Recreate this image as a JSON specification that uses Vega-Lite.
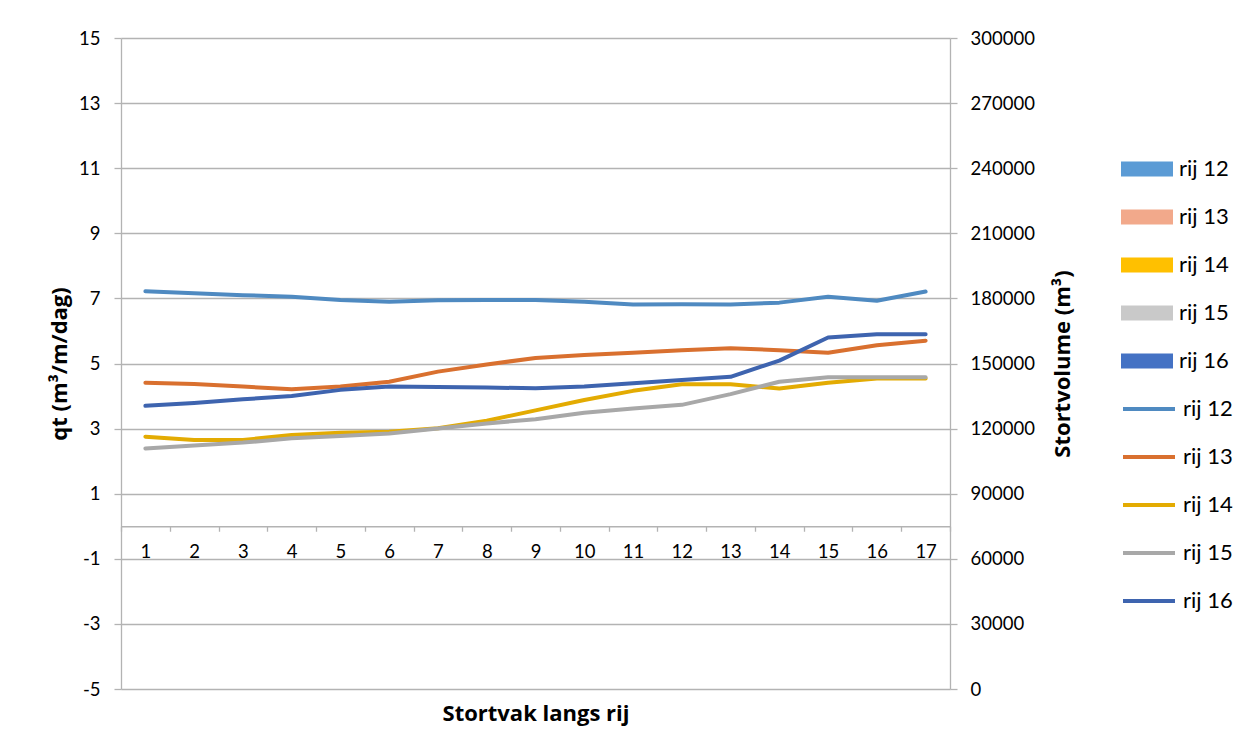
{
  "$schema": "https://vega.github.io/schema/vega-lite/v6.json",
  "width": 829,
  "height": 651,
  "autosize": "none",
  "padding": {"left": 121, "top": 38, "right": 308, "bottom": 64},
  "background": "white",
  "config": {
    "font": "Lato",
    "view": {"stroke": null},
    "axis": {
      "labelFont": "Lato",
      "labelFontSize": 18.5,
      "labelColor": "#000000",
      "titleFont": "Open Sans",
      "titleFontSize": 22,
      "titleFontWeight": "bold",
      "titleColor": "#000000",
      "domainColor": "#B3B3B3",
      "domainWidth": 1.3,
      "tickColor": "#B3B3B3",
      "tickWidth": 1.3,
      "gridColor": "#B3B3B3",
      "gridWidth": 1.3
    },
    "legend": {
      "orient": "none",
      "title": null,
      "padding": 0,
      "labelFont": "Lato",
      "labelFontSize": 22,
      "labelColor": "#000000",
      "labelOffset": 6,
      "symbolSize": 2704
    }
  },
  "datasets": {
    "stort": [
      {"rij": "rij 12", "vak": 1, "Stortvolume": 0},
      {"rij": "rij 13", "vak": 1, "Stortvolume": 0},
      {"rij": "rij 14", "vak": 1, "Stortvolume": 0},
      {"rij": "rij 15", "vak": 1, "Stortvolume": 0},
      {"rij": "rij 16", "vak": 1, "Stortvolume": 0}
    ],
    "qt": [
      {"rij": "rij 12", "vak": 1, "qt": 7.22},
      {"rij": "rij 12", "vak": 2, "qt": 7.16},
      {"rij": "rij 12", "vak": 3, "qt": 7.10},
      {"rij": "rij 12", "vak": 4, "qt": 7.05},
      {"rij": "rij 12", "vak": 5, "qt": 6.95},
      {"rij": "rij 12", "vak": 6, "qt": 6.90},
      {"rij": "rij 12", "vak": 7, "qt": 6.94},
      {"rij": "rij 12", "vak": 8, "qt": 6.95},
      {"rij": "rij 12", "vak": 9, "qt": 6.95},
      {"rij": "rij 12", "vak": 10, "qt": 6.90},
      {"rij": "rij 12", "vak": 11, "qt": 6.81},
      {"rij": "rij 12", "vak": 12, "qt": 6.82},
      {"rij": "rij 12", "vak": 13, "qt": 6.81},
      {"rij": "rij 12", "vak": 14, "qt": 6.87},
      {"rij": "rij 12", "vak": 15, "qt": 7.05},
      {"rij": "rij 12", "vak": 16, "qt": 6.93},
      {"rij": "rij 12", "vak": 17, "qt": 7.21},
      {"rij": "rij 13", "vak": 1, "qt": 4.41},
      {"rij": "rij 13", "vak": 2, "qt": 4.37},
      {"rij": "rij 13", "vak": 3, "qt": 4.29},
      {"rij": "rij 13", "vak": 4, "qt": 4.21},
      {"rij": "rij 13", "vak": 5, "qt": 4.29},
      {"rij": "rij 13", "vak": 6, "qt": 4.44},
      {"rij": "rij 13", "vak": 7, "qt": 4.75},
      {"rij": "rij 13", "vak": 8, "qt": 4.97},
      {"rij": "rij 13", "vak": 9, "qt": 5.17},
      {"rij": "rij 13", "vak": 10, "qt": 5.26},
      {"rij": "rij 13", "vak": 11, "qt": 5.33},
      {"rij": "rij 13", "vak": 12, "qt": 5.41},
      {"rij": "rij 13", "vak": 13, "qt": 5.47},
      {"rij": "rij 13", "vak": 14, "qt": 5.41},
      {"rij": "rij 13", "vak": 15, "qt": 5.33},
      {"rij": "rij 13", "vak": 16, "qt": 5.56},
      {"rij": "rij 13", "vak": 17, "qt": 5.70},
      {"rij": "rij 14", "vak": 1, "qt": 2.75},
      {"rij": "rij 14", "vak": 2, "qt": 2.65},
      {"rij": "rij 14", "vak": 3, "qt": 2.65},
      {"rij": "rij 14", "vak": 4, "qt": 2.80},
      {"rij": "rij 14", "vak": 5, "qt": 2.87},
      {"rij": "rij 14", "vak": 6, "qt": 2.90},
      {"rij": "rij 14", "vak": 7, "qt": 3.01},
      {"rij": "rij 14", "vak": 8, "qt": 3.24},
      {"rij": "rij 14", "vak": 9, "qt": 3.56},
      {"rij": "rij 14", "vak": 10, "qt": 3.88},
      {"rij": "rij 14", "vak": 11, "qt": 4.16},
      {"rij": "rij 14", "vak": 12, "qt": 4.36},
      {"rij": "rij 14", "vak": 13, "qt": 4.36},
      {"rij": "rij 14", "vak": 14, "qt": 4.23},
      {"rij": "rij 14", "vak": 15, "qt": 4.41},
      {"rij": "rij 14", "vak": 16, "qt": 4.54},
      {"rij": "rij 14", "vak": 17, "qt": 4.54},
      {"rij": "rij 15", "vak": 1, "qt": 2.39},
      {"rij": "rij 15", "vak": 2, "qt": 2.48},
      {"rij": "rij 15", "vak": 3, "qt": 2.57},
      {"rij": "rij 15", "vak": 4, "qt": 2.70},
      {"rij": "rij 15", "vak": 5, "qt": 2.77},
      {"rij": "rij 15", "vak": 6, "qt": 2.85},
      {"rij": "rij 15", "vak": 7, "qt": 3.00},
      {"rij": "rij 15", "vak": 8, "qt": 3.16},
      {"rij": "rij 15", "vak": 9, "qt": 3.29},
      {"rij": "rij 15", "vak": 10, "qt": 3.49},
      {"rij": "rij 15", "vak": 11, "qt": 3.62},
      {"rij": "rij 15", "vak": 12, "qt": 3.73},
      {"rij": "rij 15", "vak": 13, "qt": 4.06},
      {"rij": "rij 15", "vak": 14, "qt": 4.44},
      {"rij": "rij 15", "vak": 15, "qt": 4.58},
      {"rij": "rij 15", "vak": 16, "qt": 4.58},
      {"rij": "rij 15", "vak": 17, "qt": 4.58},
      {"rij": "rij 16", "vak": 1, "qt": 3.70},
      {"rij": "rij 16", "vak": 2, "qt": 3.79},
      {"rij": "rij 16", "vak": 3, "qt": 3.90},
      {"rij": "rij 16", "vak": 4, "qt": 4.00},
      {"rij": "rij 16", "vak": 5, "qt": 4.19},
      {"rij": "rij 16", "vak": 6, "qt": 4.29},
      {"rij": "rij 16", "vak": 7, "qt": 4.28},
      {"rij": "rij 16", "vak": 8, "qt": 4.26},
      {"rij": "rij 16", "vak": 9, "qt": 4.24},
      {"rij": "rij 16", "vak": 10, "qt": 4.29},
      {"rij": "rij 16", "vak": 11, "qt": 4.39},
      {"rij": "rij 16", "vak": 12, "qt": 4.49},
      {"rij": "rij 16", "vak": 13, "qt": 4.59},
      {"rij": "rij 16", "vak": 14, "qt": 5.09},
      {"rij": "rij 16", "vak": 15, "qt": 5.80},
      {"rij": "rij 16", "vak": 16, "qt": 5.90},
      {"rij": "rij 16", "vak": 17, "qt": 5.90}
    ]
  },
  "layer": [
    {
      "data": {"name": "stort"},
      "mark": {"type": "bar"},
      "encoding": {
        "x": {
          "field": "vak",
          "type": "ordinal",
          "sort": "ascending",
          "scale": {"type": "band", "paddingInner": 0, "paddingOuter": 0, "domain": [1,2,3,4,5,6,7,8,9,10,11,12,13,14,15,16,17]},
          "axis": {
            "orient": "bottom",
            "offset": -162.75,
            "labelAngle": 0,
            "tickBand": "extent",
            "tickSize": 5,
            "labelPadding": 11,
            "title": "Stortvak langs rij",
            "titleY": 187,
            "titleBaseline": "middle"
          }
        },
        "y": {
          "field": "Stortvolume",
          "type": "quantitative",
          "scale": {"domain": [0, 300000], "nice": false},
          "axis": {
            "orient": "right",
            "values": [0, 30000, 60000, 90000, 120000, 150000, 180000, 210000, 240000, 270000, 300000],
            "format": "d",
            "grid": false,
            "tickSize": 7,
            "labelPadding": 13,
            "title": "Stortvolume (m³)",
            "titleAngle": 270,
            "titleAlign": "center",
            "titleBaseline": "middle",
            "titleX": 112,
            "titleY": 325.5
          }
        },
        "fill": {
          "field": "rij",
          "type": "nominal",
          "scale": {
            "domain": ["rij 12", "rij 13", "rij 14", "rij 15", "rij 16"],
            "range": ["#5B9BD5", "#F2A98B", "#FFC000", "#C9C9C9", "#4472C4"]
          },
          "legend": {
            "symbolType": "M-1,-0.29H1V0.29H-1Z",
            "symbolStrokeWidth": 0,
            "rowPadding": 11,
            "legendX": 1000,
            "legendY": 105
          }
        }
      }
    },
    {
      "data": {"name": "qt"},
      "mark": {"type": "line", "strokeWidth": 4, "strokeCap": "round", "strokeJoin": "round"},
      "encoding": {
        "x": {"field": "vak", "type": "ordinal", "sort": "ascending"},
        "y": {
          "field": "qt",
          "type": "quantitative",
          "scale": {"domain": [-5, 15], "nice": false, "zero": false},
          "axis": {
            "orient": "left",
            "values": [-5, -3, -1, 1, 3, 5, 7, 9, 11, 13, 15],
            "labelExpr": "datum.value + ''",
            "grid": true,
            "tickSize": 7,
            "labelPadding": 14,
            "title": "qt (m³/m/dag)",
            "titleAngle": 270,
            "titleAlign": "center",
            "titleBaseline": "middle",
            "titleX": -62,
            "titleY": 325.5
          }
        },
        "stroke": {
          "field": "rij",
          "type": "nominal",
          "scale": {
            "domain": ["rij 12", "rij 13", "rij 14", "rij 15", "rij 16"],
            "range": ["#4F8AC1", "#D9702F", "#E3AB02", "#A8A8A8", "#3E64AF"]
          },
          "legend": {
            "symbolType": "stroke",
            "symbolStrokeWidth": 4,
            "rowPadding": 9,
            "legendX": 1000,
            "legendY": 343
          }
        }
      }
    }
  ],
  "resolve": {"scale": {"y": "independent", "fill": "independent", "stroke": "independent"}}
}
